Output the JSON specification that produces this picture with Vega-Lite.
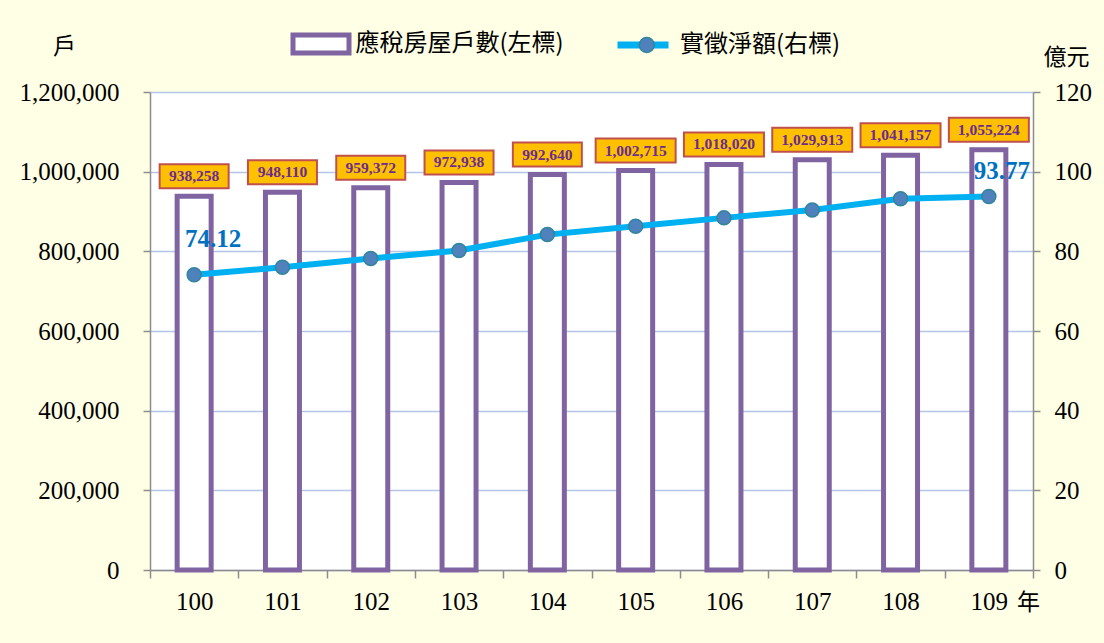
{
  "$schema": "https://vega.github.io/schema/vega-lite/v6.json",
  "width": 883,
  "height": 478,
  "autosize": {"type": "none"},
  "padding": {"left": 150, "top": 92, "right": 71, "bottom": 73},
  "background": "#FFFFE6",
  "config": {
    "view": {"fill": "white", "stroke": null},
    "axis": {"labelFont": "Liberation Serif", "labelFontSize": 25, "labelColor": "black", "domainColor": "#8C8C8C", "domainWidth": 1.5, "tickColor": "#8C8C8C", "tickWidth": 1.5, "titleFont": "Noto Sans CJK TC", "titleFontSize": 23, "titleFontWeight": "normal", "titleColor": "black"},
    "legend": {"title": null, "labelFont": "Noto Sans CJK TC", "labelFontSize": 24, "labelColor": "black", "labelLimit": 400, "padding": 0, "orient": "none"}
  },
  "data": {"values": [
    {"year": "100", "h": 938258, "amt": 74.12},
    {"year": "101", "h": 948110, "amt": 76.0},
    {"year": "102", "h": 959372, "amt": 78.2},
    {"year": "103", "h": 972938, "amt": 80.2},
    {"year": "104", "h": 992640, "amt": 84.2},
    {"year": "105", "h": 1002715, "amt": 86.3},
    {"year": "106", "h": 1018020, "amt": 88.4},
    {"year": "107", "h": 1029913, "amt": 90.4},
    {"year": "108", "h": 1041157, "amt": 93.2},
    {"year": "109", "h": 1055224, "amt": 93.77}
  ]},
  "encoding": {
    "x": {"field": "year", "type": "ordinal", "scale": {"paddingInner": 0, "paddingOuter": 0},
      "axis": {"labelAngle": 0, "tickSize": 8, "labelPadding": 11, "tickBand": "extent", "title": "年", "titleX": 878, "titleY": 32, "titleAlign": "center", "titleBaseline": "middle"}}
  },
  "layer": [
    {
      "encoding": {
        "y": {"field": "h", "type": "quantitative", "scale": {"domain": [0, 1200000], "nice": false},
          "axis": {"orient": "left", "values": [0, 200000, 400000, 600000, 800000, 1000000, 1200000], "labelExpr": "format(datum.value, ',')", "tickSize": 7, "labelPadding": 24, "grid": true, "gridColor": "#B4C7E7", "gridWidth": 1.5, "title": "戶", "titleAngle": 0, "titleX": -86, "titleY": -46, "titleAlign": "center", "titleBaseline": "middle"}}
      },
      "layer": [
        {
          "mark": {"type": "bar", "fill": "white", "strokeWidth": 5, "width": 34},
          "encoding": {
            "stroke": {"datum": "應稅房屋戶數(左標)", "scale": {"range": ["#8064A2"]},
              "legend": {"legendX": 140.5, "legendY": -78.5, "symbolType": "M-1,-0.32H1V0.32H-1Z", "symbolSize": 3136, "symbolStrokeWidth": 5, "symbolFillColor": "white", "labelOffset": 4,
                "encode": {"symbols": {"update": {"fill": {"value": "white"}, "strokeWidth": {"value": 5}}}}}}
          }
        },
        {
          "transform": [{"filter": "datum.h < 1000000"}],
          "mark": {"type": "point", "shape": "M-1,-0.348H1V0.348H-1Z", "size": 4761, "filled": true, "fill": "#FFC000", "stroke": "#C0504D", "strokeWidth": 2, "opacity": 1, "yOffset": -20}
        },
        {
          "transform": [{"filter": "datum.h >= 1000000"}],
          "mark": {"type": "point", "shape": "M-1,-0.3H1V0.3H-1Z", "size": 6400, "filled": true, "fill": "#FFC000", "stroke": "#C0504D", "strokeWidth": 2, "opacity": 1, "yOffset": -20}
        },
        {
          "mark": {"type": "text", "font": "Liberation Serif", "fontSize": 15.5, "fontWeight": "bold", "color": "#6A2C91", "dy": -20, "baseline": "middle"},
          "encoding": {"text": {"field": "h", "type": "quantitative", "format": ","}}
        }
      ]
    },
    {
      "encoding": {
        "y": {"field": "amt", "type": "quantitative", "scale": {"domain": [0, 120], "nice": false},
          "axis": {"orient": "right", "values": [0, 20, 40, 60, 80, 100, 120], "labelExpr": "format(datum.value, 'd')", "tickSize": 7, "labelPadding": 14, "labelAlign": "left", "grid": false, "title": "億元", "titleAngle": 0, "titleX": 33, "titleY": -35, "titleAlign": "center", "titleBaseline": "middle"}}
      },
      "layer": [
        {
          "mark": {"type": "line", "strokeWidth": 6},
          "encoding": {
            "color": {"datum": "實徵淨額(右標)", "scale": {"range": ["#00B0F0"]},
              "legend": {"legendX": 464, "legendY": -76, "symbolType": "stroke", "symbolSize": 2601, "symbolStrokeWidth": 7, "labelOffset": 8}}
          }
        },
        {
          "mark": {"type": "point", "filled": true, "size": 196, "stroke": "#31859C", "strokeWidth": 1.5, "opacity": 1},
          "encoding": {
            "fill": {"datum": "marker", "scale": {"range": ["#4F81BD"]},
              "legend": {"legendX": 484.75, "legendY": -59, "symbolType": "circle", "symbolSize": 225, "symbolStrokeColor": "#31859C", "symbolStrokeWidth": 1.5, "labelExpr": "''"}}
          }
        },
        {
          "transform": [{"filter": "datum.year == '100'"}],
          "mark": {"type": "text", "font": "Liberation Serif", "fontSize": 25, "fontWeight": "bold", "color": "#0070C0", "dx": 19, "dy": -36, "baseline": "middle"},
          "encoding": {"text": {"field": "amt", "type": "quantitative", "format": ".2f"}}
        },
        {
          "transform": [{"filter": "datum.year == '109'"}],
          "mark": {"type": "text", "font": "Liberation Serif", "fontSize": 25, "fontWeight": "bold", "color": "#0070C0", "dx": 13, "dy": -25, "baseline": "middle"},
          "encoding": {"text": {"field": "amt", "type": "quantitative", "format": ".2f"}}
        }
      ]
    }
  ],
  "resolve": {"scale": {"y": "independent"}}
}
